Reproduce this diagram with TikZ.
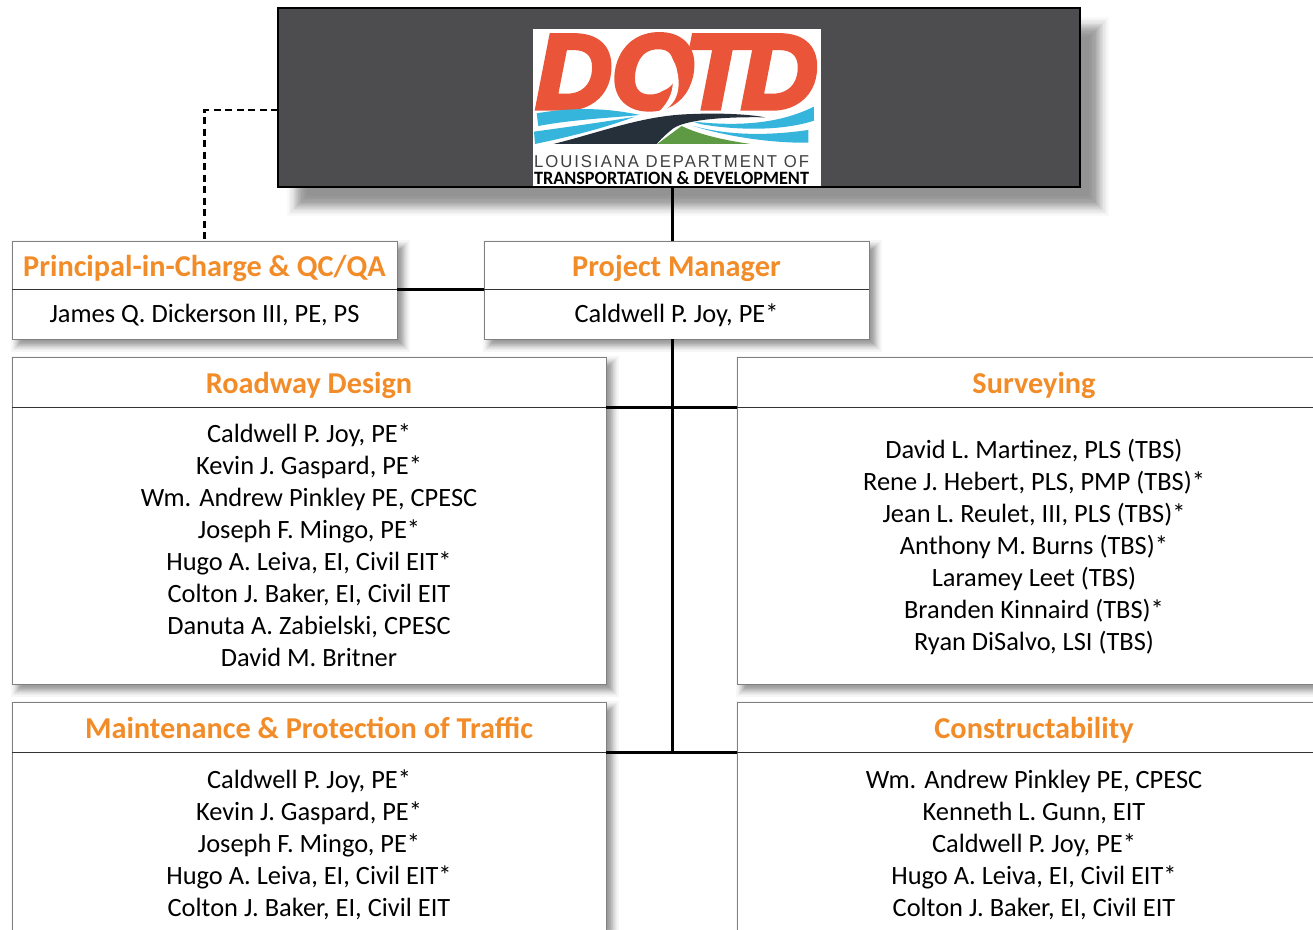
\documentclass[tikz,border=0pt]{standalone}
\usepackage{fontspec}
\usepackage{graphicx}
\setmainfont{Carlito}
\newfontfamily\logofont[BoldItalicFeatures={FakeBold=5}]{Liberation Sans}
\newfontfamily\logothin{Liberation Sans}
\definecolor{hdr}{HTML}{F28C28}
\definecolor{dark}{HTML}{4D4D4F}
\definecolor{edge}{HTML}{808080}
\definecolor{logored}{HTML}{EA5539}
\definecolor{logoblue}{HTML}{35B5DC}
\definecolor{logoroad}{HTML}{26303A}
\definecolor{logogreen}{HTML}{5E9A43}
\newcommand{\softshadow}[6]{% x1 y1 x2 y2 offset blur
  \pgfmathsetmacro{\layerop}{0.5/(2*#6)}
  \pgfmathtruncatemacro{\layerlast}{2*#6}
  \foreach \k in {0,...,\layerlast}{
    \pgfmathsetmacro{\tval}{1-\k/#6}
    \pgfmathsetmacro{\ins}{#6*(0.6*\tval+0.4*\tval*\tval*\tval)}
    \fill[black,opacity=\layerop] ({#1+#5-\ins},{#2+#5-\ins}) rectangle ({#3+#5+\ins},{#4+#5+\ins});
  }}
\newcommand{\firstrow}{\rule{0pt}{28pt}}
\newcommand{\lastrow}{\rule[-10pt]{0pt}{10pt}}
\newcommand{\onlyrow}{\rule{0pt}{26pt}}
\tikzset{
  boxhead/.style={draw=edge,line width=1pt,fill=white,anchor=north west,inner sep=0pt,outer sep=0pt,
    font=\fontsize{30.3}{32}\selectfont\bfseries,text=hdr,align=center,text height=28pt,text depth=6pt},
  boxbody/.style={draw=edge,line width=1pt,fill=white,anchor=north west,inner sep=0pt,outer sep=0pt,
    font=\fontsize{26.4}{32}\selectfont,text=black,align=center},
  conn/.style={draw=black,line width=3pt},
  dashconn/.style={draw=black,line width=2.5pt,dash pattern=on 7pt off 4.5pt},
  headrule/.style={draw=black!80,line width=1pt},
}
\begin{document}
\begin{tikzpicture}[x=1pt,y=-1pt]
\useasboundingbox (0,0) rectangle (1313,929);
\clip (0,0) rectangle (1313,929);
\fill[white] (0,0) rectangle (1313,929);
% shadows
\softshadow{278}{8}{1080}{187}{19}{10}
\softshadow{12}{241}{397}{339}{6}{7}
\softshadow{484}{241}{869}{339}{6}{7}
\softshadow{12}{357}{606}{684}{6}{7}
\softshadow{737}{357}{1340}{684}{6}{7}
\softshadow{12}{702}{606}{960}{6}{7}
\softshadow{737}{702}{1340}{960}{6}{7}
% top box
\node[draw=black,line width=2.5pt,fill=dark,anchor=north west,inner sep=0pt,outer sep=0pt,minimum width=802pt,minimum height=179pt] (dotd) at (278,8) {};
\coordinate (trunk) at (672,752);
% connectors
\draw[dashconn] (dotd.west |- 0,110) -| (204.5,241);
\draw[conn] (dotd.south -| trunk) -- (trunk);
% boxes
\node[boxhead,minimum width=385pt,minimum height=48pt] (pichead) at (12,241) {Principal-in-Charge \& QC/QA};
\node[boxbody,minimum width=385pt,minimum height=50pt] (picbody) at (12,289) {\onlyrow James Q. Dickerson III, PE, PS\lastrow};
\node[boxhead,minimum width=385pt,minimum height=48pt] (pmhead) at (484,241) {Project Manager};
\node[boxbody,minimum width=385pt,minimum height=50pt] (pmbody) at (484,289) {\onlyrow Caldwell P. Joy, PE*\lastrow};
\node[boxhead,minimum width=594pt,minimum height=50pt] (rdhead) at (12,357) {Roadway Design};
\node[boxbody,minimum width=594pt,minimum height=277pt] (rdbody) at (12,407) {\firstrow Caldwell P. Joy, PE*\\Kevin J. Gaspard, PE*\\Wm. Andrew Pinkley PE, CPESC\\Joseph F. Mingo, PE*\\Hugo A. Leiva, EI, Civil EIT*\\Colton J. Baker, EI, Civil EIT\\Danuta A. Zabielski, CPESC\\David M. Britner\lastrow};
\node[boxhead,minimum width=594pt,minimum height=50pt] (svhead) at (737,357) {Surveying};
\node[boxbody,minimum width=594pt,minimum height=277pt] (svbody) at (737,407) {\firstrow David L. Martinez, PLS (TBS)\\Rene J. Hebert, PLS, PMP (TBS)*\\Jean L. Reulet, III, PLS (TBS)*\\Anthony M. Burns (TBS)*\\Laramey Leet (TBS)\\Branden Kinnaird (TBS)*\\Ryan DiSalvo, LSI (TBS)\lastrow};
\node[boxhead,minimum width=594pt,minimum height=50pt] (mthead) at (12,702) {Maintenance \& Protection of Traffic};
\node[boxbody,minimum width=594pt,minimum height=183pt] (mtbody) at (12,752) {\firstrow Caldwell P. Joy, PE*\\Kevin J. Gaspard, PE*\\Joseph F. Mingo, PE*\\Hugo A. Leiva, EI, Civil EIT*\\Colton J. Baker, EI, Civil EIT\lastrow};
\node[boxhead,minimum width=594pt,minimum height=50pt] (cthead) at (737,702) {Constructability};
\node[boxbody,minimum width=594pt,minimum height=183pt] (ctbody) at (737,752) {\firstrow Wm. Andrew Pinkley PE, CPESC\\Kenneth L. Gunn, EIT\\Caldwell P. Joy, PE*\\Hugo A. Leiva, EI, Civil EIT*\\Colton J. Baker, EI, Civil EIT\lastrow};
\foreach \h in {pichead,pmhead,rdhead,svhead,mthead,cthead}
  \draw[headrule] (\h.south west) -- (\h.south east);
\draw[conn] (pichead.south east) -- (pmhead.south west);
\draw[conn] (rdhead.south east) -- (svhead.south west);
\draw[conn] (mthead.south east) -- (cthead.south west);
\draw[conn] (trunk |- pmbody.south) -- (trunk);
% logo
\fill[white] (533,29) rectangle (821,186);
\node[anchor=base west,inner sep=0pt,outer sep=0pt,text=logored,font=\logofont\fontsize{105}{105}\selectfont\bfseries\itshape] (logoword) at (536,108)
  {D\kern0ptO\kern-9ptT\kern-7ptD};
\begin{scope}[shift={(520,20)},x=0.3333pt,y=-0.3333pt]
  \fill[white] (410,155) circle (60);
  \fill[white] (468,140) .. controls (490,215) and (465,262) .. (410,282) .. controls (450,245) and (465,205) .. (455,170) -- cycle;
  \fill[logoblue] (50,280) .. controls (180,258) and (280,268) .. (360,285) .. controls (250,295) and (150,300) .. (55,318) -- cycle;
  \fill[logoblue] (42,335) .. controls (150,320) and (260,305) .. (345,290) .. controls (250,325) and (150,350) .. (45,372) -- cycle;
  \fill[logoblue] (520,305) .. controls (680,322) and (790,305) .. (882,260) -- (882,302) .. controls (780,335) and (640,330) .. (540,312) -- cycle;
  \fill[logoblue] (520,318) .. controls (640,350) and (760,345) .. (865,330) -- (865,368) .. controls (760,370) and (620,350) .. (520,318) -- cycle;
  \fill[logoroad] (100,372) .. controls (250,335) and (370,285) .. (520,282) .. controls (620,278) and (700,285) .. (735,292) .. controls (620,290) and (500,298) .. (460,325) .. controls (435,345) and (420,360) .. (410,372) -- cycle;
  \fill[logogreen] (412,372) -- (485,318) .. controls (540,345) and (620,362) .. (692,372) -- cycle;
\end{scope}
\node[anchor=base west,inner sep=0pt,outer sep=0pt,font=\logothin,text=black!75] (logoline1) at (534,167)
  {\resizebox{275pt}{12pt}{\addfontfeature{LetterSpace=12}LOUISIANA DEPARTMENT OF}};
\node[anchor=base west,inner sep=0pt,outer sep=0pt,font=\bfseries] (logoline2) at (534,184)
  {\resizebox{275pt}{13pt}{TRANSPORTATION \& DEVELOPMENT}};
\end{tikzpicture}
\end{document}
